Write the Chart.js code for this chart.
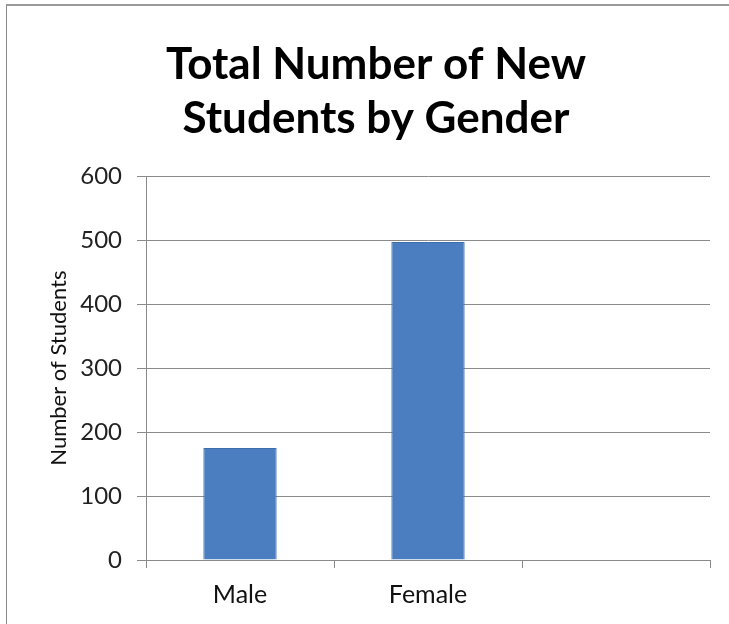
<!DOCTYPE html>
<html>
<head>
<meta charset="utf-8">
<script src="https://cdn.jsdelivr.net/npm/chart.js@4"></script>
<style>
  html, body { margin: 0; padding: 0; background: #fff; overflow: hidden; }
  #wrap { position: relative; width: 729px; height: 624px; }
  #frame { position: absolute; left: 6px; top: 4px; right: 0; bottom: 0; border-left: 1px solid #8a8a8a; border-top: 2px solid #9a9a9a; pointer-events: none; }
</style>
</head>
<body>
<div id="wrap">
  <canvas id="grafico" width="729" height="624"></canvas>
  <div id="frame"></div>
</div>
<script>
const categorias = ['Male', 'Female', ''];
const alunos = [175, 497, null];
const marcasY = [0, 100, 200, 300, 400, 500, 600];

const fonte = 'Lato, "Open Sans", sans-serif';

const ctx = document.getElementById('grafico').getContext('2d');
const grafico = new Chart(ctx, {
    type: 'bar',
    data: {
        labels: categorias,
        datasets: [{
            label: 'Number of Students',
            data: alunos,
            backgroundColor: '#4a7ec0',
            borderColor: '#3d6dab',
            borderWidth: 1,
            categoryPercentage: 1,
            barPercentage: 0.39
        }]
    },
    options: {
        responsive: false,
        animation: false,
        layout: { padding: { left: 42, right: 19, top: 38, bottom: 0 } },
        plugins: {
            legend: { display: false },
            tooltip: { enabled: false },
            title: {
                display: true,
                text: ['Total Number of New', 'Students by Gender'],
                color: '#000',
                font: { family: fonte, size: 44, weight: 'bold', lineHeight: 1.23 },
                padding: { top: 0, bottom: 30 }
            }
        },
        scales: {
            x: {
                afterFit: (escala) => { escala.height = 64; },
                grid: { drawOnChartArea: false, drawTicks: true, tickLength: 8, color: '#8a8a8a' },
                border: { color: '#8a8a8a' },
                ticks: { color: '#111', font: { family: fonte, size: 25 }, padding: 12 }
            },
            y: {
                min: 0,
                max: 600,
                afterBuildTicks: (escala) => { escala.ticks = marcasY.map(v => ({ value: v })); },
                afterFit: (escala) => { escala.width = 104; },
                grid: { color: '#8a8a8a', tickLength: 9 },
                border: { color: '#8a8a8a' },
                ticks: { color: '#222', font: { family: fonte, size: 24 }, padding: 15 },
                title: {
                    display: true,
                    text: 'Number of Students',
                    color: '#111',
                    font: { family: fonte, size: 22 },
                    padding: { bottom: 0 }
                }
            }
        }
    }
});
</script>
</body>
</html>
